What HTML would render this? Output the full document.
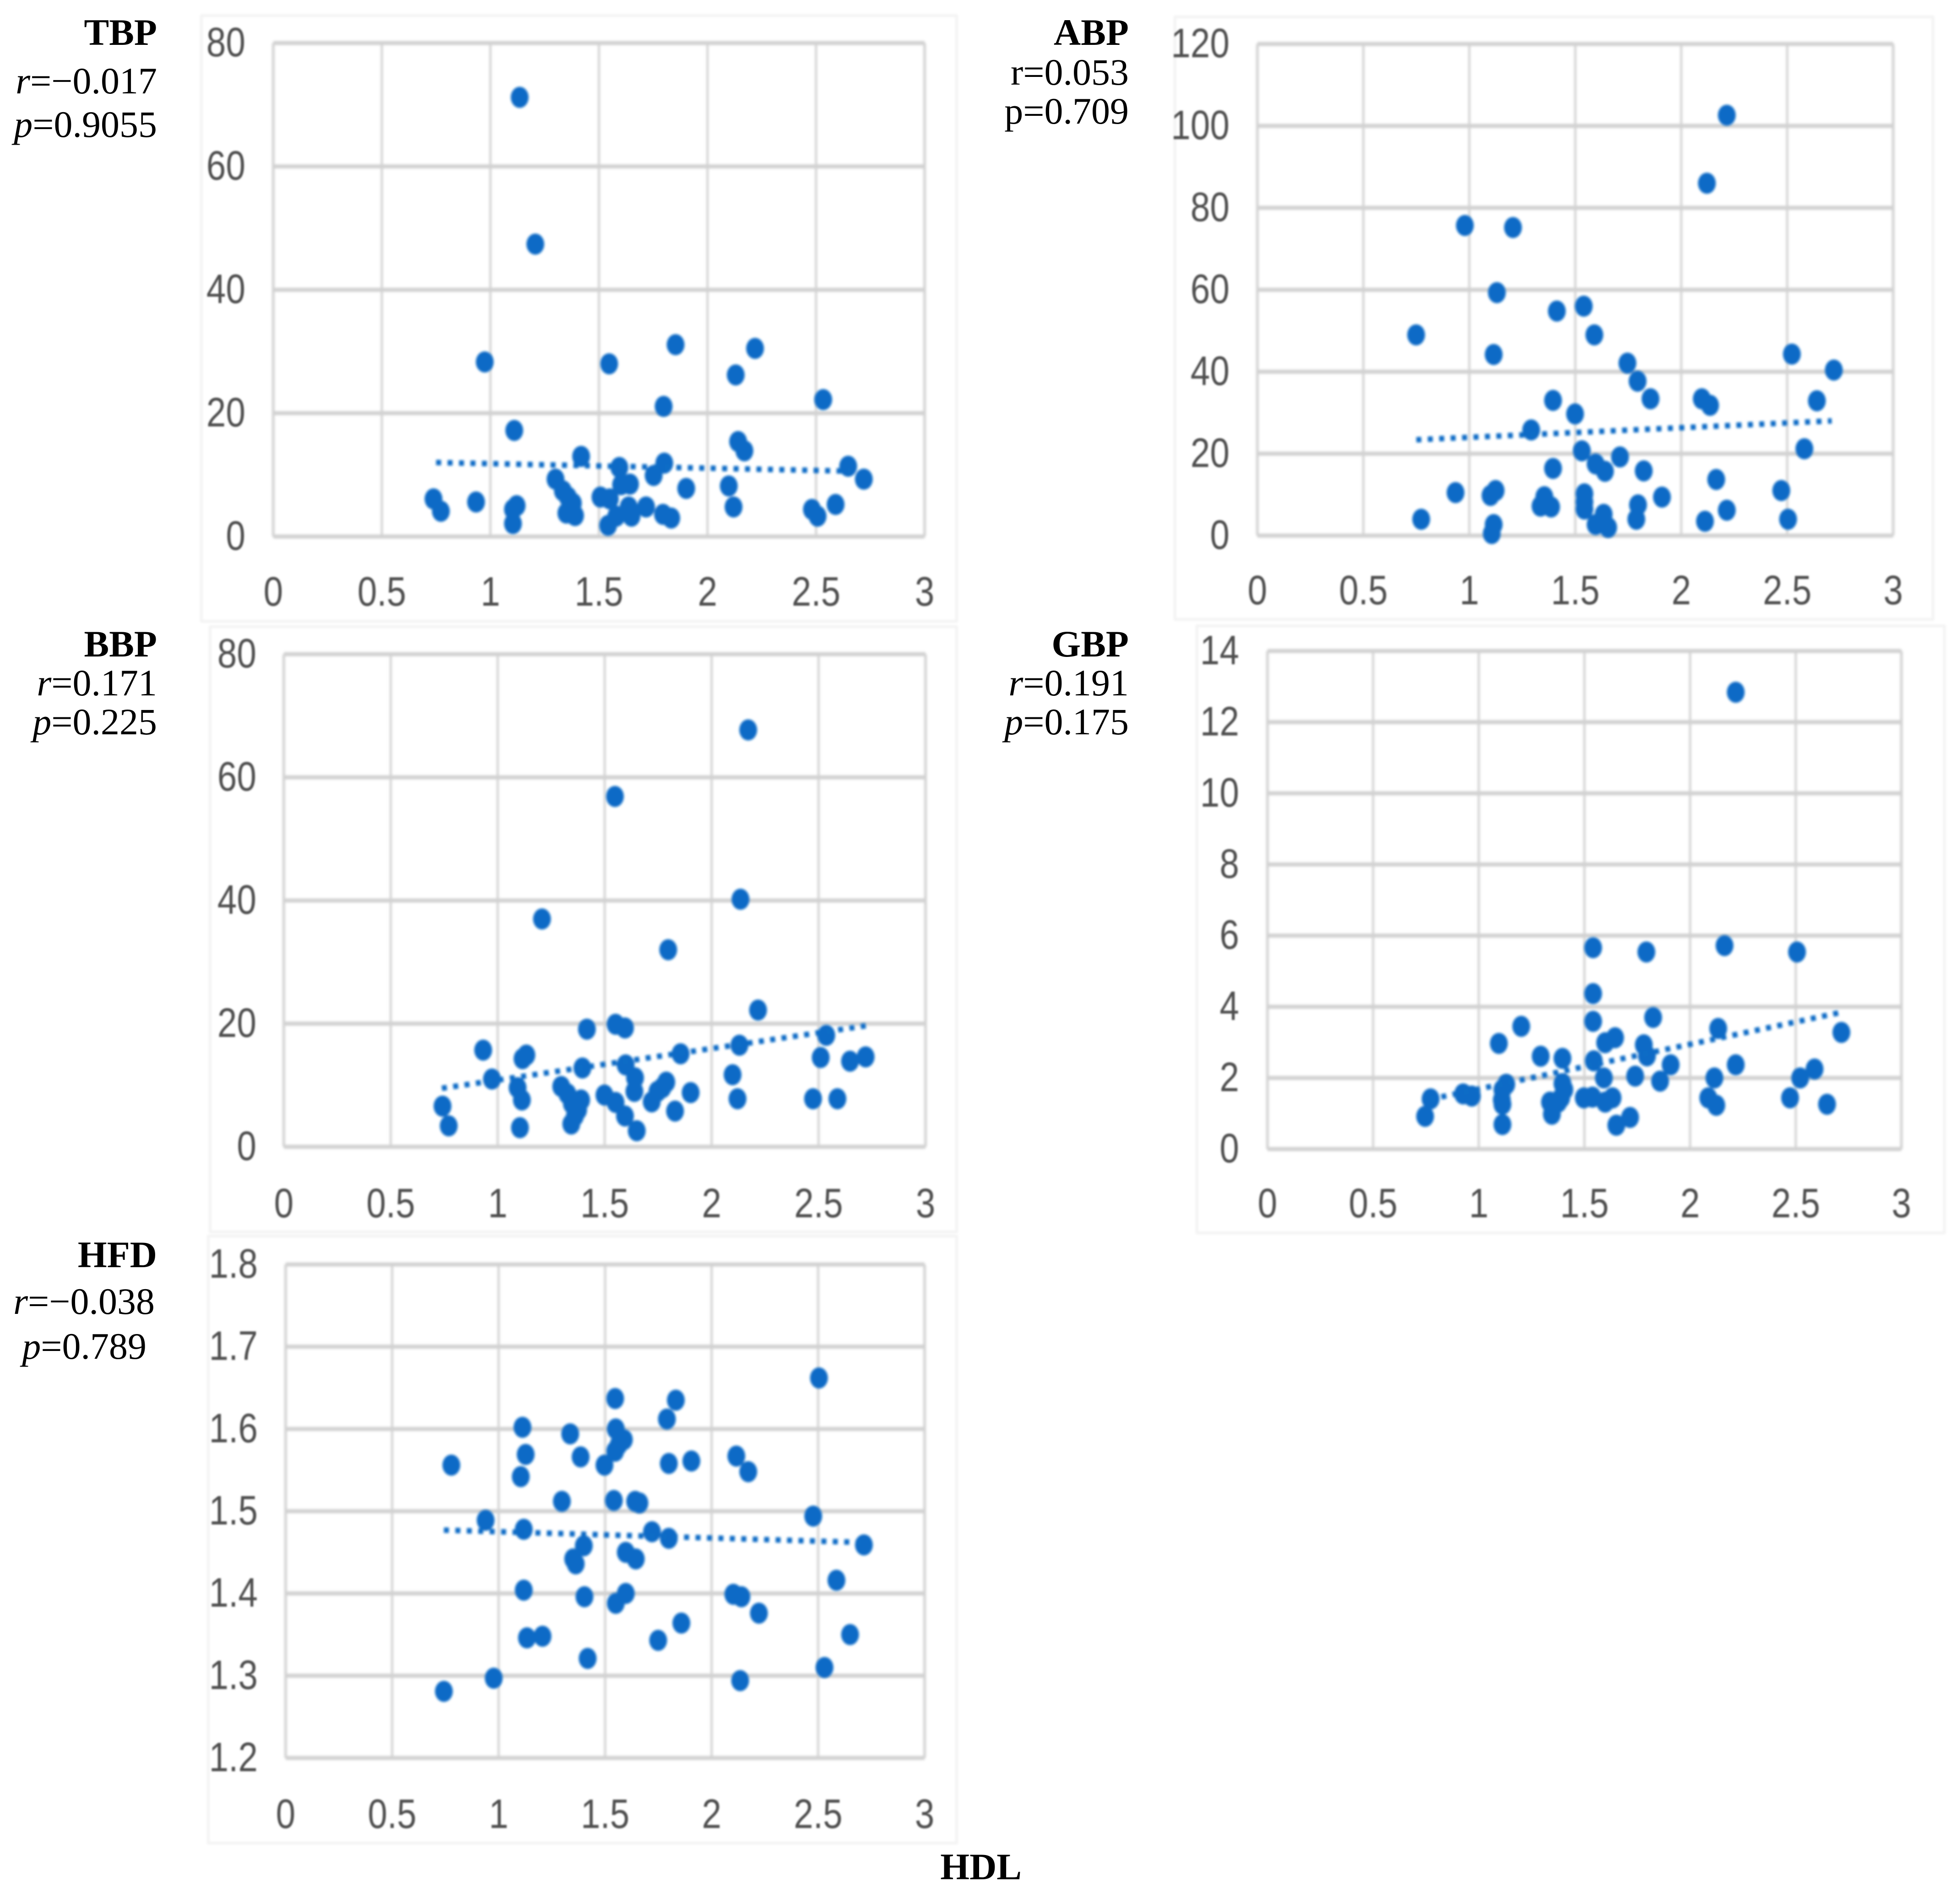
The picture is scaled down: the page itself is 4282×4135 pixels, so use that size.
<!DOCTYPE html>
<html lang="en">
<head>
<meta charset="utf-8">
<title>HDL correlation scatter plots</title>
<style>
html,body{margin:0;padding:0;background:#fff;width:4282px;height:4135px;overflow:hidden}
svg{display:block}
.stat{font-family:"Liberation Serif",serif;font-size:82px;fill:#000;text-anchor:end}
.title{font-family:"Liberation Serif",serif;font-size:82px;font-weight:bold;fill:#000;text-anchor:end}
.tick{font-family:"Liberation Sans",sans-serif;font-size:90px;fill:#4f4f4f}
</style>
</head>
<body>
<svg id="figure" xmlns="http://www.w3.org/2000/svg" width="4282" height="4135" viewBox="0 0 4282 4135">
  <defs>
    <filter id="soft" x="-5%" y="-5%" width="110%" height="110%"><feGaussianBlur stdDeviation="2.6"/></filter>
    <filter id="softText" x="-5%" y="-5%" width="110%" height="110%"><feGaussianBlur stdDeviation="1.8"/></filter>
  </defs>
  <g id="charts"></g>

  <text class="title" x="343" y="98">TBP</text>
  <text class="stat" x="343" y="204"><tspan font-style="italic">r</tspan>=−0.017</text>
  <text class="stat" x="343" y="299"><tspan font-style="italic">p</tspan>=0.9055</text>

  <text class="title" x="2479" y="98" transform="translate(-13 0)">ABP</text>
  <text class="stat" x="2466" y="185">r=0.053</text>
  <text class="stat" x="2466" y="270">p=0.709</text>

  <text class="title" x="343" y="1434">BBP</text>
  <text class="stat" x="343" y="1519"><tspan font-style="italic">r</tspan>=0.171</text>
  <text class="stat" x="343" y="1604"><tspan font-style="italic">p</tspan>=0.225</text>

  <text class="title" x="2466" y="1434">GBP</text>
  <text class="stat" x="2466" y="1519"><tspan font-style="italic">r</tspan>=0.191</text>
  <text class="stat" x="2466" y="1604"><tspan font-style="italic">p</tspan>=0.175</text>

  <text class="title" x="343" y="2768">HFD</text>
  <text class="stat" x="338" y="2870"><tspan font-style="italic">r</tspan>=−0.038</text>
  <text class="stat" x="320" y="2968"><tspan font-style="italic">p</tspan>=0.789</text>

  <text class="title" x="2232" y="4123" transform="translate(0 -18)">HDL</text>
</svg>
<script>
const xTickLabels = ["0","0.5","1","1.5","2","2.5","3"];

const tbpTickLabels = ["0","20","40","60","80"];
const abpTickLabels = ["0","20","40","60","80","100","120"];
const bbpTickLabels = ["0","20","40","60","80"];
const gbpTickLabels = ["0","2","4","6","8","10","12","14"];
const hfdTickLabels = ["1.2","1.3","1.4","1.5","1.6","1.7","1.8"];

const tbpHdl = [1.135,1.207,.974,1.547,1.853,2.219,2.13,1.798,2.533,1.11,2.141,2.17,1.418,1.594,1.801,2.648,1.752,2.72,1.3,1.602,1.643,1.334,1.902,2.098,.738,.772,.934,1.121,1.104,1.104,1.357,1.38,1.35,1.39,1.507,1.55,1.542,1.58,1.637,1.65,1.717,1.795,1.833,2.12,2.481,2.507,2.59];
const tbpValues = [71.2,47.4,28.3,28,31.1,30.5,26.2,21.1,22.2,17.2,15.4,13.9,13,11.2,11.9,11.4,9.9,9.3,9.3,8.4,8.5,7.4,7.8,8.2,6.1,4.1,5.6,5,4.4,2.1,6.4,5.4,3.8,3.4,6.4,6.1,1.8,3.3,4.8,3.3,4.8,3.6,3,4.8,4.4,3.3,5.2];
const tbpTrendX = [.75,2.66];
const tbpTrendY = [12,10.6];

const abpHdl = [2.215,2.121,.979,1.206,1.13,1.54,1.413,.749,1.59,1.115,2.522,1.746,2.72,1.794,1.855,2.097,2.136,1.395,2.64,1.499,1.292,2.581,1.531,1.711,1.596,1.64,1.395,1.823,2.165,2.472,.935,1.124,1.1,1.909,1.354,1.543,1.543,1.543,1.336,1.386,1.796,2.215,.773,2.504,1.788,2.112,1.634,1.596,1.655,1.115,1.106];
const abpValues = [102.6,86,75.7,75.2,59.3,56,54.8,49,49,44.2,44.3,42.1,40.4,37.7,33.4,33.4,31.8,33,32.9,29.7,25.8,21.2,20.7,19.2,17.5,15.7,16.4,15.8,13.7,11,10.5,11,9.8,9.4,9.5,10.2,8.2,6.5,7.2,7,7.5,6.2,4,4,4,3.5,5.2,2.7,2,2.7,.5];
const abpTrendX = [.75,2.71];
const abpTrendY = [23.4,28];

const bbpHdl = [2.171,1.548,2.135,1.207,1.797,2.217,1.551,1.595,1.417,.932,2.536,1.134,1.116,2.13,1.855,2.51,2.647,2.72,.973,1.396,1.598,1.642,2.098,1.093,1.113,1.104,.742,.771,1.297,1.326,1.39,1.347,1.376,1.361,1.344,1.499,1.551,1.595,1.65,1.639,1.72,1.747,1.788,1.77,1.829,1.902,2.121,2.474,2.588];
const bbpValues = [67.7,56.9,40.2,37,32,22.2,19.9,19.3,19.1,15.7,18.1,14.9,14.3,16.5,15.1,14.5,13.9,14.6,11,12.8,13.3,11.2,11.7,9.6,7.6,3.1,6.6,3.4,9.8,8.6,7.6,7,6,5,3.7,8.4,7.2,5,2.6,9,7.3,9,10.5,9.6,5.8,8.8,7.8,7.8,7.8];
const bbpTrendX = [.739,2.73];
const bbpTrendY = [9.5,19.7];

const gbpHdl = [2.216,1.541,1.793,2.163,2.506,1.541,1.825,1.541,1.201,2.133,2.716,1.645,1.598,1.095,1.781,1.796,1.293,1.396,1.544,2.216,1.908,2.589,1.74,2.521,2.115,1.592,1.858,1.13,1.112,1.396,1.405,.926,.967,.772,1.109,1.39,1.337,1.376,1.497,1.538,1.598,1.633,2.086,2.124,2.473,2.648,1.112,1.346,.746,1.716,1.651,1.112];
const gbpValues = [12.84,5.66,5.54,5.72,5.54,4.37,3.7,3.59,3.45,3.39,3.28,3.13,2.99,2.97,2.93,2.62,2.61,2.55,2.48,2.37,2.37,2.25,2.05,2,2,2,1.91,1.82,1.67,1.84,1.67,1.55,1.49,1.41,1.38,1.44,1.32,1.32,1.44,1.46,1.32,1.44,1.44,1.23,1.44,1.26,1.26,.98,.92,.89,.67,.69];
const gbpTrendX = [.77,2.72];
const gbpTrendY = [1.4,3.85];

const hfdHdl = [2.504,1.547,1.832,1.79,1.112,1.55,1.336,1.588,1.564,1.547,1.127,1.385,2.116,.778,1.497,1.799,1.905,2.172,1.104,1.297,1.541,1.641,1.661,2.477,.939,1.118,1.72,1.799,2.715,1.4,1.597,1.644,1.35,1.362,2.586,1.118,2.102,2.14,1.597,1.403,1.55,2.222,1.858,2.65,1.206,1.133,1.749,1.418,2.53,.977,2.134,.743];
const hfdValues = [1.662,1.637,1.635,1.612,1.602,1.6,1.594,1.587,1.581,1.573,1.569,1.566,1.567,1.556,1.556,1.558,1.561,1.548,1.542,1.512,1.513,1.512,1.51,1.494,1.489,1.478,1.475,1.467,1.459,1.458,1.45,1.442,1.442,1.436,1.416,1.404,1.399,1.396,1.4,1.396,1.388,1.376,1.364,1.35,1.348,1.346,1.343,1.321,1.31,1.297,1.294,1.281];
const hfdTrendX = [.743,2.709];
const hfdTrendY = [1.477,1.462];

const NS = "http://www.w3.org/2000/svg";
const root = document.getElementById("charts");

function svgEl(tag, attrs, parent) {
  const el = document.createElementNS(NS, tag);
  for (const k in attrs) el.setAttribute(k, attrs[k]);
  parent.appendChild(el);
  return el;
}

function drawPanel(key, box, hdl, values, trendX, trendY, yLabels) {
  const g = svgEl("g", {}, root);
  
  

  const frame = svgEl("rect", {x: box.fx0, y: box.fy0, width: box.fx1 - box.fx0, height: box.fy1 - box.fy0, fill: "#fff", stroke: "#f1f1f1", "stroke-width": 5, filter: "url(#soft)"}, g);
  
  
  const frameTop = svgEl("line", {x1: box.fx0, x2: box.fx1, y1: box.fy0, y2: box.fy0, stroke: "#e4e4e4", "stroke-width": 6, filter: "url(#soft)"}, g);
  
  

  const xMin = 0, xMax = 3;
  const yMin = parseFloat(yLabels[0]);
  const yMax = parseFloat(yLabels[yLabels.length - 1]);
  const sx = v => box.x0 + (v - xMin) / (xMax - xMin) * (box.x1 - box.x0);
  const sy = v => box.y1 - (v - yMin) / (yMax - yMin) * (box.y1 - box.y0);

  const grid = svgEl("g", {filter: "url(#soft)"}, g);
  
  
  xTickLabels.forEach(t => {
    const v = parseFloat(t);
    const w = (v === 0 || v === 3) ? 6 : 5;
    svgEl("line", {x1: sx(v), x2: sx(v), y1: box.y0, y2: box.y1, stroke: "#d4d4d4", "stroke-width": w}, grid);
  });
  yLabels.forEach(t => {
    const v = parseFloat(t);
    svgEl("line", {x1: box.x0, x2: box.x1, y1: sy(v), y2: sy(v), stroke: "#d2d2d2", "stroke-width": 9}, grid);
  });

  const labels = svgEl("g", {filter: "url(#softText)"}, g);
  xTickLabels.forEach(t => {
    const txt = svgEl("text", {class: "tick", "text-anchor": "middle", transform: "translate(" + sx(parseFloat(t)) + "," + (box.xBase + 6) + ") scale(.85,1)"}, labels);
    
    
    txt.textContent = t;
  });
  yLabels.forEach(t => {
    const txt = svgEl("text", {class: "tick", "text-anchor": "end", transform: "translate(" + (box.yRight + 6) + "," + (sy(parseFloat(t)) + 29) + ") scale(.85,1)"}, labels);
    
    
    txt.textContent = t;
  });

  const marks = svgEl("g", {filter: "url(#soft)"}, g);
  hdl.forEach((h, i) => {
    const pt = svgEl("ellipse", {cx: sx(h), cy: sy(values[i]), rx: 19.5, ry: 23, fill: "#0b6bc6"}, marks);
    
    
  });

  const trend = svgEl("line", {x1: sx(trendX[0]), y1: sy(trendY[0]), x2: sx(trendX[1]), y2: sy(trendY[1]), stroke: "#0f6cc6", "stroke-width": 12, "stroke-dasharray": "11 14"}, marks);
  
  
}

drawPanel("tbp", {fx0:440,fy0:34,fx1:2090,fy1:1357,x0:597,x1:2020,y0:94,y1:1172,yRight:530,xBase:1317}, tbpHdl, tbpValues, tbpTrendX, tbpTrendY, tbpTickLabels);
drawPanel("abp", {fx0:2567,fy0:37,fx1:4223,fy1:1353,x0:2747,x1:4136,y0:96,y1:1170,yRight:2680,xBase:1314}, abpHdl, abpValues, abpTrendX, abpTrendY, abpTickLabels);
drawPanel("bbp", {fx0:459,fy0:1369,fx1:2090,fy1:2691,x0:620,x1:2022,y0:1429,y1:2505,yRight:554,xBase:2653}, bbpHdl, bbpValues, bbpTrendX, bbpTrendY, bbpTickLabels);
drawPanel("gbp", {fx0:2615,fy0:1367,fx1:4248,fy1:2693,x0:2769,x1:4154,y0:1422,y1:2510,yRight:2701,xBase:2653}, gbpHdl, gbpValues, gbpTrendX, gbpTrendY, gbpTickLabels);
drawPanel("hfd", {fx0:455,fy0:2700,fx1:2090,fy1:4026,x0:624,x1:2020,y0:2762,y1:3840,yRight:557,xBase:3987}, hfdHdl, hfdValues, hfdTrendX, hfdTrendY, hfdTickLabels);
</script>
</body>
</html>
